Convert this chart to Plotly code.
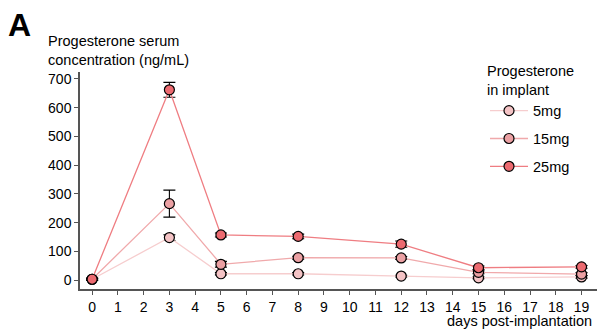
import plotly.graph_objects as go

days = [0, 3, 5, 8, 12, 15, 19]
dose_labels = ["5mg", "15mg", "25mg"]
mean_5mg = [3, 148, 22, 22, 14, 8, 11]
err_5mg = [3, 10, 4, 4, 3, 3, 4]
mean_15mg = [3, 266, 55, 78, 77, 27, 21]
err_15mg = [3, 47, 10, 5, 5, 5, 5]
mean_25mg = [3, 662, 157, 152, 125, 43, 46]
err_25mg = [3, 26, 7, 8, 11, 6, 5]
x_ticks = list(range(0, 20))
y_ticks = [0, 100, 200, 300, 400, 500, 600, 700]

fills = ["#F4C3C5", "#EBA0A3", "#EC6A70"]
lines = ["#F6CDCE", "#F0A9AB", "#EF7D82"]

FONT = "Liberation Sans, Arial, sans-serif"
W, H = 598, 332
L, R, T, B = 80, 1, 72, 43
PW, PH = W - L - R, H - T - B

def px(x):
    return (x - L) / PW

def py(y):
    return (H - B - y) / PH

fig = go.Figure()
for lab, m, e, fc, lc in zip(dose_labels, [mean_5mg, mean_15mg, mean_25mg],
                             [err_5mg, err_15mg, err_25mg], fills, lines):
    fig.add_trace(go.Scatter(
        x=days, y=m, name=lab, mode="lines+markers",
        line=dict(color=lc, width=1.3),
        marker=dict(size=10, color=fc, line=dict(color="black", width=1.2)),
        error_y=dict(type="data", array=e, visible=True, color="black",
                     thickness=1.1, width=6),
        legendgroup=lab,
    ))

fig.update_layout(
    width=W, height=H,
    margin=dict(l=L, r=R, t=T, b=B),
    paper_bgcolor="white", plot_bgcolor="white",
    font=dict(family=FONT, size=14, color="black"),
    showlegend=True,
    legend=dict(
        x=px(485), y=py(57), xanchor="left", yanchor="top",
        title=dict(text="Progesterone<br>in implant", font=dict(size=14.5)),
        font=dict(size=14.5), tracegroupgap=6, itemwidth=38,
        bgcolor="rgba(0,0,0,0)",
    ),
    xaxis=dict(
        range=[-0.47, 19.6], tickvals=x_ticks, ticktext=[str(t) for t in x_ticks],
        showline=True, linecolor="#555", linewidth=1.5,
        ticks="outside", ticklen=4, tickcolor="#555", tickwidth=1,
        showgrid=False, zeroline=False, tickfont=dict(size=14),
    ),
    yaxis=dict(
        range=[-31, 724], tickvals=y_ticks, ticktext=[str(t) for t in y_ticks],
        showline=True, linecolor="#555", linewidth=1.5,
        ticks="outside", ticklen=4, tickcolor="#555", tickwidth=1,
        showgrid=False, zeroline=False, tickfont=dict(size=14),
    ),
    annotations=[
        dict(text="<b>A</b>", xref="paper", yref="paper", x=px(6), y=py(25),
             xanchor="left", yanchor="middle", showarrow=False,
             font=dict(size=32, family=FONT)),
        dict(text="Progesterone serum<br>concentration (ng/mL)", xref="paper",
             yref="paper", x=px(46), y=py(31), xanchor="left", yanchor="top",
             align="left", showarrow=False, font=dict(size=14.5)),
        dict(text="days post-implantation", xref="paper", yref="paper",
             x=px(594), y=py(321), xanchor="right", yanchor="middle",
             showarrow=False, font=dict(size=14.5)),
    ],
)

fig.write_html("out.html")
